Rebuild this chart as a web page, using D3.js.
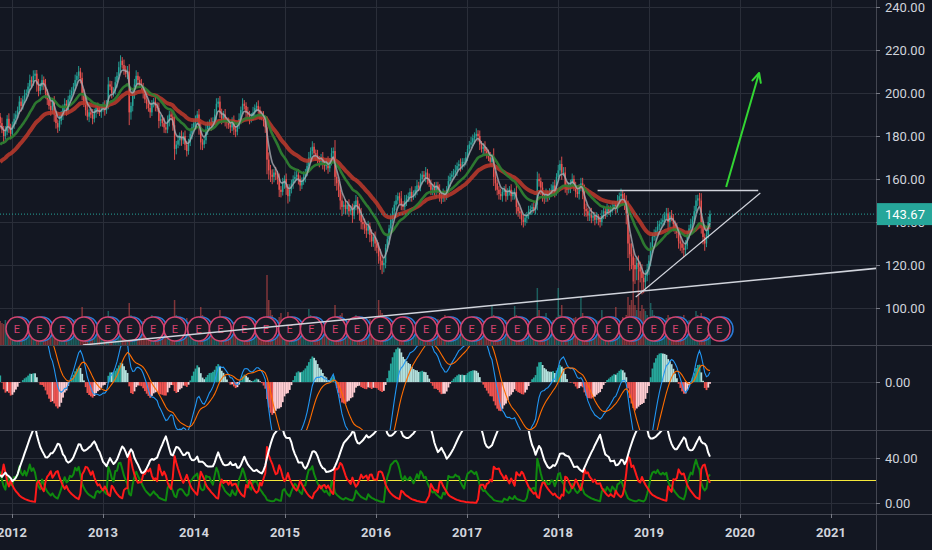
<!DOCTYPE html>
<html>
<head>
<meta charset="utf-8">
<script src="https://cdn.jsdelivr.net/npm/d3@7"></script>
<style>
html, body { margin: 0; padding: 0; background: #131722; }
svg { display: block; }
text { font-family: Roboto, "Liberation Sans", sans-serif; }
</style>
</head>
<body>
<svg id="chart" width="932" height="550"></svg>
<script>
// weekly bars, first one mid Nov 2011
start_year = 2011.87;
weeks_per_year = 52.18;
first_open = 189;
last_price = 143.67;

closes = [
186,183,180,182,188,184,181,185,188,190,192,196,194,197,199,200,203,206,205,208,209,204,201,203,206,204,
200,197,194,192,196,190,186,184,187,190,193,195,192,197,199,201,203,206,208,210,207,200,196,192,189,191,
190,188,191,193,192,191,193,194,192,195,204,203,200,201,205,208,212,215,213,211,209,210,191,194,199,204,
208,206,204,203,200,197,195,193,191,195,196,194,193,187,188,186,184,183,187,190,189,185,174,176,178,180,
178,180,176,173,177,181,184,186,187,190,184,177,176,178,183,185,186,185,187,190,195,196,191,188,190,187,
186,185,184,187,183,182,185,188,192,195,194,191,190,188,189,191,193,194,192,190,189,187,184,169,164,162,
161,163,162,160,155,154,158,160,156,152,155,158,160,161,162,160,157,159,161,163,166,170,173,175,172,171,
169,168,170,167,166,168,165,168,172,173,161,158,155,150,147,148,146,148,145,146,143,148,150,146,144,140,
139,137,136,138,134,131,133,130,128,124,122,120,121,128,132,137,141,145,148,150,152,151,148,147,150,151,
152,154,152,153,155,157,156,160,162,161,163,160,158,155,156,154,157,155,152,151,153,152,155,159,161,162,
163,164,166,167,166,168,168,170,174,176,177,179,180,181,180,176,174,175,173,172,170,168,170,161,158,155,
153,152,154,155,152,154,155,152,153,154,147,145,144,141,140,142,143,145,146,147,146,148,160,159,156,152,
151,153,152,154,155,157,154,161,164,167,163,163,157,155,156,158,160,157,154,153,156,158,154,146,145,143,
144,142,143,141,142,141,140,143,145,144,146,145,146,147,148,146,150,152,153,151,149,144,130,125,124,120,
118,121,119,117,114,112,115,118,122,128,133,134,136,138,139,140,141,143,144,140,143,142,139,137,135,131,
130,128,127,129,134,137,139,141,145,150,151,150,138,133,130,134,140,143.67
];

// wick above the body and below the body, in wick units (wick_unit dollars each)
wick_unit = 0.85;
upper_wicks = [
2,3,2,3,2,3,2,2,3,2,2,3,2,2,3,2,2,3,2,3,2,2,3,2,3,2,
3,2,2,3,2,3,2,2,3,2,2,3,2,2,3,2,2,3,2,3,2,3,2,2,3,2,
2,3,2,2,3,2,2,2,3,2,4,2,3,2,3,2,3,3,2,3,2,3,4,2,3,3,
3,2,2,3,2,3,2,2,3,2,2,3,2,3,2,2,3,2,3,2,2,3,5,2,3,2,
3,2,3,2,2,3,2,2,3,2,3,3,2,2,3,2,2,3,2,3,3,2,3,2,2,3,
2,3,2,2,3,2,2,3,2,3,2,2,3,2,2,3,2,2,3,2,2,3,2,6,4,3,
3,2,3,2,3,2,3,2,3,2,3,2,2,3,2,3,2,2,3,2,3,3,2,3,2,2,
3,2,2,3,2,2,3,2,3,2,6,3,2,3,4,2,3,2,3,2,3,2,3,2,3,3,
2,3,2,3,2,3,2,3,2,3,4,3,3,2,3,2,3,2,2,3,2,2,4,2,3,2,
2,2,3,2,2,3,2,3,2,2,3,2,3,2,2,3,2,2,3,2,3,2,2,3,2,2,
2,3,2,2,3,2,2,3,2,2,3,2,2,3,2,3,2,2,3,2,2,3,2,5,3,2,
2,3,2,2,3,2,2,3,2,2,5,3,2,2,3,2,2,3,2,2,3,2,4,3,2,3,
2,3,2,2,3,2,3,2,3,2,4,3,3,2,3,2,3,2,2,3,2,3,3,4,3,2,
2,3,2,2,3,2,2,3,2,2,3,2,2,3,2,2,3,2,3,2,3,4,7,5,6,4,
4,3,4,3,4,3,3,3,3,3,2,3,2,3,2,2,3,2,3,3,2,3,2,2,3,2,
3,2,2,3,2,2,3,2,3,3,2,3,4,3,2,3,3,2
];
lower_wicks = [
3,2,4,2,2,3,3,2,2,3,2,2,3,2,2,3,2,2,3,2,2,4,3,2,2,3,
3,3,2,3,2,4,3,3,2,2,3,2,3,2,2,3,2,2,3,2,3,4,3,3,2,3,
2,3,2,3,2,2,3,2,3,2,3,2,3,2,2,3,2,3,2,3,2,3,7,4,3,2,
2,3,2,2,3,2,3,2,3,2,2,3,2,4,3,2,3,2,2,3,2,3,6,3,2,3,
3,2,3,3,2,2,3,2,3,2,4,4,3,2,2,3,2,3,2,2,3,2,3,3,2,3,
3,2,3,2,3,3,2,2,3,2,2,3,2,3,2,2,3,2,2,3,2,3,3,8,5,4,
4,3,3,3,4,3,2,3,4,4,3,2,3,2,2,3,3,2,2,3,2,2,3,2,3,3,
2,3,2,3,3,2,3,2,2,3,5,4,4,5,5,4,3,3,3,2,4,2,3,3,4,4,
3,3,4,2,4,3,3,4,3,4,5,5,4,3,2,3,2,2,2,3,2,3,3,2,2,3,
2,3,3,2,2,3,2,2,3,2,3,3,2,3,3,2,3,2,3,3,2,3,2,2,3,2,
2,2,3,2,3,2,3,2,2,3,2,2,3,2,3,3,2,3,2,3,2,2,3,5,4,3,
3,2,3,2,3,2,2,3,2,3,4,3,3,3,3,2,3,2,2,3,2,3,3,3,4,3,
3,2,3,2,2,3,3,2,2,3,4,2,4,3,2,3,2,3,3,2,3,2,4,4,3,3,
3,3,2,3,2,3,3,2,2,3,2,2,3,2,2,3,2,2,3,3,4,6,8,9,7,9,
8,6,7,6,9,6,4,3,3,3,3,2,3,2,2,3,2,3,2,4,3,2,4,3,3,4,
4,3,4,3,2,2,2,3,2,2,3,3,4,4,4,2,2,3
];

// weekly volume, millions of shares
volumes = [
24,22,21,25,20,19,18,17,22,21,23,26,24,20,22,19,21,23,20,24,22,28,25,21,20,22,
23,21,20,24,22,25,23,20,21,22,24,20,19,22,21,23,25,26,22,24,27,38,26,24,22,21,
20,19,22,21,17,18,20,19,22,21,34,26,22,20,21,23,22,25,24,21,20,22,42,30,26,24,
25,23,21,22,24,26,22,21,20,30,23,22,21,24,20,22,23,21,24,22,23,28,45,30,26,24,
22,21,25,27,23,20,21,19,18,22,24,38,30,26,22,21,23,24,22,21,25,23,35,26,22,21,
20,21,22,20,23,21,19,24,22,23,28,22,20,21,19,22,23,24,22,21,22,25,28,70,45,35,
30,26,24,25,28,32,24,22,23,33,26,22,21,24,22,23,25,21,22,24,22,36,30,26,23,22,
21,20,22,19,21,20,23,22,24,25,40,28,24,30,32,26,24,22,23,22,25,24,30,26,24,25,
24,23,25,22,26,24,23,25,27,45,35,32,30,26,24,25,23,22,21,24,22,20,26,23,21,22,
20,21,19,22,23,24,21,20,23,24,22,21,20,22,21,23,24,26,22,25,23,30,26,24,21,22,
20,19,21,22,20,24,21,22,25,23,24,26,28,24,22,23,21,22,24,23,25,22,40,30,28,26,
24,23,22,21,25,22,23,24,22,39,30,26,25,24,27,23,22,21,24,23,22,26,57,35,28,26,
25,32,26,24,23,25,24,28,57,30,40,28,26,25,24,23,26,27,28,25,26,48,32,28,27,26,
25,24,23,26,25,24,23,35,26,24,23,22,25,24,26,38,25,23,24,28,27,30,48,40,45,87,
40,35,75,34,40,36,34,30,28,42,35,30,28,26,25,24,23,25,27,30,28,26,25,24,27,26,
25,28,30,26,24,25,23,22,24,34,30,26,32,28,26,24,25,22
];

earnings = [2012.055, 2012.30, 2012.55, 2012.79, 2013.05, 2013.29, 2013.55, 2013.79,
            2014.05, 2014.29, 2014.55, 2014.79, 2015.05, 2015.29, 2015.55, 2015.79,
            2016.05, 2016.29, 2016.55, 2016.79, 2017.05, 2017.29, 2017.55, 2017.79,
            2018.05, 2018.29, 2018.55, 2018.79, 2019.05, 2019.29, 2019.55, 2019.77];

year_ticks = [2012, 2013, 2014, 2015, 2016, 2017, 2018, 2019, 2020, 2021];
price_ticks = [100, 120, 140, 160, 180, 200, 220, 240];
macd_ticks = [0];
dmi_ticks = [0, 40];
dmi_level = 20;

// moving averages: fast (gray), mid (green), slow (red); starting values read at left edge
ema_lengths = [5, 21, 40];
ema_seeds = [184, 175, 167];
// ema12, ema26, signal at left edge
macd_seeds = [185, 176, 7.5];
// atr, +dm, -dm, adx at left edge, DI length and ADX smoothing
dmi_seeds = [5, 1.4, 1.2, 25];
di_length = 5;
adx_length = 8;

// drawings on the chart, [year, price]
trend_long = [[2012.78, 82.8], [2021.536, 118.6]];
top_line = [[2018.435, 154.65], [2020.2, 154.65]];
wedge_line = [[2018.854, 105.1], [2020.223, 153.5]];
arrow_line = [[2019.848, 156.3], [2020.21, 209.3]];

settings = {
	width: 932,
	height: 550,
	plotRight: 876,
	mainBottom: 345,
	macdBottom: 430,
	dmiBottom: 514
};

x = d3.scaleLinear().domain([2012, 2021]).range([12, 831]);
y_price = d3.scaleLinear().domain([100, 240]).range([308, 7]);
y_vol = d3.scaleLinear().domain([0, 100]).range([settings.mainBottom, settings.mainBottom - 100]);
y_macd = d3.scaleLinear().domain([-5.3, 4.1]).range([settings.macdBottom, settings.mainBottom]);
y_dmi = d3.scaleLinear().domain([0, 40]).range([503, 458]);

svg = d3.select("#chart");

function build_bars() {
	bars = closes.map(function(c, i) {
		var o = i == 0 ? first_open : closes[i - 1];
		return {
			t: start_year + i / weeks_per_year,
			o: o,
			c: c,
			h: Math.max(o, c) + upper_wicks[i] * wick_unit,
			l: Math.min(o, c) - lower_wicks[i] * wick_unit,
			v: volumes[i]
		};
	});
	return bars;
}

function compute_indicators(bars) {
	var emas = ema_seeds.slice();
	var e12 = macd_seeds[0], e26 = macd_seeds[1], sig = macd_seeds[2];
	var atr = dmi_seeds[0], pdm_s = dmi_seeds[1], mdm_s = dmi_seeds[2], adx = dmi_seeds[3];
	var prev_hist = null;

	bars.forEach(function(b, i) {
		emas = emas.map((e, k) => e + (b.c - e) * 2 / (ema_lengths[k] + 1));
		b.ema = emas.slice();

		e12 = e12 + (b.c - e12) * 2 / 13;
		e26 = e26 + (b.c - e26) * 2 / 27;
		var m = e12 - e26;
		sig = sig + (m - sig) * 2 / 10;
		b.macd = m;
		b.signal = sig;
		b.hist = m - sig;
		if (prev_hist == null) prev_hist = b.hist;
		if (b.hist >= 0) b.histColor = b.hist >= prev_hist ? "#26a69a" : "#b2dfdb";
		else b.histColor = b.hist <= prev_hist ? "#ef5350" : "#ffcdd2";
		prev_hist = b.hist;

		if (i > 0) {
			var p = bars[i - 1];
			var up = b.h - p.h, dn = p.l - b.l;
			var pdm = (up > dn && up > 0) ? up : 0;
			var mdm = (dn > up && dn > 0) ? dn : 0;
			var tr = Math.max(b.h - b.l, Math.abs(b.h - p.c), Math.abs(b.l - p.c));
			atr += (tr - atr) / di_length;
			pdm_s += (pdm - pdm_s) / di_length;
			mdm_s += (mdm - mdm_s) / di_length;
		}
		b.pdi = 100 * pdm_s / atr;
		b.mdi = 100 * mdm_s / atr;
		var dx = 100 * Math.abs(b.pdi - b.mdi) / ((b.pdi + b.mdi) || 1);
		if (i > 0) adx += (dx - adx) / adx_length;
		b.adx = adx;
	});
}

function add_clips() {
	var defs = svg.append("defs");
	[["clipMain", 0, settings.mainBottom],
	 ["clipMacd", settings.mainBottom, settings.macdBottom],
	 ["clipDmi", settings.macdBottom, settings.dmiBottom]].forEach(function(c) {
		defs.append("clipPath").attr("id", c[0])
			.append("rect")
			.attr("x", 0).attr("y", c[1])
			.attr("width", settings.plotRight).attr("height", c[2] - c[1]);
	});
}

function draw_grid() {
	var g = svg.append("g").attr("stroke", "#2a2e39").attr("stroke-width", 1);

	g.selectAll("line.vx").data(year_ticks).enter().append("line")
		.attr("x1", d => Math.round(x(d)) + 0.5).attr("x2", d => Math.round(x(d)) + 0.5)
		.attr("y1", 0).attr("y2", settings.dmiBottom);

	g.selectAll("line.hp").data(price_ticks).enter().append("line")
		.attr("x1", 0).attr("x2", settings.plotRight)
		.attr("y1", d => Math.round(y_price(d)) + 0.5).attr("y2", d => Math.round(y_price(d)) + 0.5);

	g.selectAll("line.hm").data(macd_ticks).enter().append("line")
		.attr("x1", 0).attr("x2", settings.plotRight)
		.attr("y1", d => Math.round(y_macd(d)) + 0.5).attr("y2", d => Math.round(y_macd(d)) + 0.5);

	g.selectAll("line.hd").data(dmi_ticks).enter().append("line")
		.attr("x1", 0).attr("x2", settings.plotRight)
		.attr("y1", d => Math.round(y_dmi(d)) + 0.5).attr("y2", d => Math.round(y_dmi(d)) + 0.5);
}

function draw_main(bars) {
	var g = svg.append("g").attr("clip-path", "url(#clipMain)");

	// volume
	g.append("g").selectAll("rect").data(bars).enter().append("rect")
		.attr("x", d => x(d.t) - 0.75)
		.attr("y", d => y_vol(d.v))
		.attr("width", 1.5)
		.attr("height", d => settings.mainBottom - y_vol(d.v))
		.attr("fill", d => d.c >= d.o ? "rgba(38,166,154,0.5)" : "rgba(239,83,80,0.5)");

	// candles
	var cg = g.append("g").selectAll("g").data(bars).enter().append("g");
	cg.append("line")
		.attr("x1", d => x(d.t)).attr("x2", d => x(d.t))
		.attr("y1", d => y_price(d.h)).attr("y2", d => y_price(d.l))
		.attr("stroke", d => d.c >= d.o ? "#26a69a" : "#ef5350")
		.attr("stroke-width", 0.9);
	cg.append("rect")
		.attr("x", d => x(d.t) - 0.7)
		.attr("y", d => y_price(Math.max(d.o, d.c)))
		.attr("width", 1.4)
		.attr("height", d => Math.max(1, Math.abs(y_price(d.o) - y_price(d.c))))
		.attr("fill", d => d.c >= d.o ? "#26a69a" : "#ef5350");

	// moving averages, slow first
	var ema_styles = [["#a9acb4", 1.6, 0.8], ["#2e7d32", 2.6, 0.95], ["#c0392b", 4, 0.85]];
	[2, 1, 0].forEach(function(k) {
		var line = d3.line().x(d => x(d.t)).y(d => y_price(d.ema[k])).curve(d3.curveMonotoneX);
		g.append("path").datum(bars)
			.attr("d", line)
			.attr("fill", "none")
			.attr("stroke", ema_styles[k][0])
			.attr("stroke-width", ema_styles[k][1])
			.attr("stroke-opacity", ema_styles[k][2])
			.attr("stroke-linejoin", "round");
	});

	// earnings markers
	var cy = settings.mainBottom - 16;
	var eg = g.append("g").selectAll("g").data(earnings).enter().append("g");
	eg.append("ellipse")
		.attr("cx", d => x(d) + 3).attr("cy", cy).attr("rx", 11).attr("ry", 12)
		.attr("fill", "#131722").attr("stroke", "#2a7bd6").attr("stroke-width", 1.5);
	eg.append("ellipse")
		.attr("cx", d => x(d)).attr("cy", cy).attr("rx", 11).attr("ry", 12)
		.attr("fill", "#181b26").attr("stroke", "#d4436f").attr("stroke-width", 1.5);
	eg.append("text")
		.attr("x", d => x(d)).attr("y", cy + 4)
		.attr("text-anchor", "middle")
		.attr("font-size", 11)
		.attr("fill", "#d4436f")
		.text("E");

	// last price line
	g.append("line")
		.attr("x1", 0).attr("x2", settings.plotRight)
		.attr("y1", y_price(last_price)).attr("y2", y_price(last_price))
		.attr("stroke", "#26a69a").attr("stroke-width", 1)
		.attr("stroke-dasharray", "1,2");
}

function draw_drawings() {
	var g = svg.append("g").attr("clip-path", "url(#clipMain)");
	var seg = d => d3.line().x(p => x(p[0])).y(p => y_price(p[1]))(d);

	g.append("path").attr("d", seg(trend_long))
		.attr("stroke", "#d1d4dc").attr("stroke-width", 1.5).attr("fill", "none");
	g.append("path").attr("d", seg(top_line))
		.attr("stroke", "#d1d4dc").attr("stroke-width", 1.5).attr("fill", "none");
	g.append("path").attr("d", seg(wedge_line))
		.attr("stroke", "#d1d4dc").attr("stroke-width", 1.2).attr("fill", "none");

	// arrow
	var p0 = [x(arrow_line[0][0]), y_price(arrow_line[0][1])];
	var p1 = [x(arrow_line[1][0]), y_price(arrow_line[1][1])];
	var ang = Math.atan2(p1[1] - p0[1], p1[0] - p0[0]);
	var head = 10;
	var hd = "M" + (p1[0] - head * Math.cos(ang - 0.45)) + "," + (p1[1] - head * Math.sin(ang - 0.45)) +
		"L" + p1[0] + "," + p1[1] +
		"L" + (p1[0] - head * Math.cos(ang + 0.45)) + "," + (p1[1] - head * Math.sin(ang + 0.45));
	g.append("path").attr("d", seg(arrow_line))
		.attr("stroke", "#33d633").attr("stroke-width", 2).attr("fill", "none");
	g.append("path").attr("d", hd)
		.attr("stroke", "#33d633").attr("stroke-width", 2).attr("fill", "none")
		.attr("stroke-linecap", "round").attr("stroke-linejoin", "round");
}

function draw_macd(bars) {
	var g = svg.append("g").attr("clip-path", "url(#clipMacd)");
	var w = 91 / weeks_per_year;

	g.append("g").selectAll("rect").data(bars).enter().append("rect")
		.attr("x", d => x(d.t) - w / 2)
		.attr("width", w + 0.1)
		.attr("y", d => Math.min(y_macd(0), y_macd(d.hist)))
		.attr("height", d => Math.abs(y_macd(d.hist) - y_macd(0)))
		.attr("fill", d => d.histColor);

	g.append("path").datum(bars)
		.attr("d", d3.line().x(d => x(d.t)).y(d => y_macd(d.macd)))
		.attr("fill", "none").attr("stroke", "#2196f3").attr("stroke-width", 1.1);
	g.append("path").datum(bars)
		.attr("d", d3.line().x(d => x(d.t)).y(d => y_macd(d.signal)))
		.attr("fill", "none").attr("stroke", "#ff6d00").attr("stroke-width", 1.1);
}

function draw_dmi(bars) {
	var g = svg.append("g").attr("clip-path", "url(#clipDmi)");

	g.append("line")
		.attr("x1", 0).attr("x2", settings.plotRight)
		.attr("y1", y_dmi(dmi_level)).attr("y2", y_dmi(dmi_level))
		.attr("stroke", "#f5e83a").attr("stroke-width", 1);

	[["pdi", "#0f8a0f"], ["mdi", "#ff1a1a"], ["adx", "#ffffff"]].forEach(function(s) {
		g.append("path").datum(bars)
			.attr("d", d3.line().x(d => x(d.t)).y(d => y_dmi(d[s[0]])))
			.attr("fill", "none").attr("stroke", s[1]).attr("stroke-width", 2)
			.attr("stroke-linejoin", "round");
	});
}

function draw_axes() {
	var g = svg.append("g");

	// pane separators and price axis line
	g.selectAll("line.sep").data([settings.mainBottom, settings.macdBottom, settings.dmiBottom]).enter()
		.append("line")
		.attr("x1", 0).attr("x2", settings.width)
		.attr("y1", d => d + 0.5).attr("y2", d => d + 0.5)
		.attr("stroke", "#434651").attr("stroke-width", 1);
	g.append("line")
		.attr("x1", settings.plotRight + 0.5).attr("x2", settings.plotRight + 0.5)
		.attr("y1", 0).attr("y2", settings.height)
		.attr("stroke", "#434651").attr("stroke-width", 1);

	var labels = [];
	price_ticks.forEach(d => labels.push([y_price(d), d]));
	macd_ticks.forEach(d => labels.push([y_macd(d), d]));
	dmi_ticks.forEach(d => labels.push([y_dmi(d), d]));

	g.selectAll("line.tk").data(labels).enter().append("line")
		.attr("x1", settings.plotRight).attr("x2", settings.plotRight + 4)
		.attr("y1", d => Math.round(d[0]) + 0.5).attr("y2", d => Math.round(d[0]) + 0.5)
		.attr("stroke", "#787b86");
	g.selectAll("text.tk").data(labels).enter().append("text")
		.attr("x", settings.plotRight + 9)
		.attr("y", d => d[0] + 4.5)
		.attr("font-size", 13)
		.attr("fill", "#d1d4dc")
		.text(d => d3.format(".2f")(d[1]));

	// year axis
	g.selectAll("line.yt").data(year_ticks).enter().append("line")
		.attr("x1", d => Math.round(x(d)) + 0.5).attr("x2", d => Math.round(x(d)) + 0.5)
		.attr("y1", settings.dmiBottom).attr("y2", settings.dmiBottom + 4)
		.attr("stroke", "#787b86");
	g.selectAll("text.yt").data(year_ticks).enter().append("text")
		.attr("x", d => x(d))
		.attr("y", 537)
		.attr("text-anchor", "middle")
		.attr("font-size", 13)
		.attr("font-weight", "bold")
		.attr("fill", "#d1d4dc")
		.text(d => d);

	// last price label
	g.append("rect")
		.attr("x", settings.plotRight + 1).attr("y", y_price(last_price) - 11)
		.attr("width", settings.width - settings.plotRight - 1).attr("height", 22)
		.attr("fill", "#26a69a");
	g.append("text")
		.attr("x", settings.plotRight + 9).attr("y", y_price(last_price) + 4.5)
		.attr("font-size", 13).attr("fill", "#ffffff")
		.text(d3.format(".2f")(last_price));
}

bars = build_bars();
compute_indicators(bars);
add_clips();
draw_grid();
draw_main(bars);
draw_drawings();
draw_macd(bars);
draw_dmi(bars);
draw_axes();
</script>
</body>
</html>
